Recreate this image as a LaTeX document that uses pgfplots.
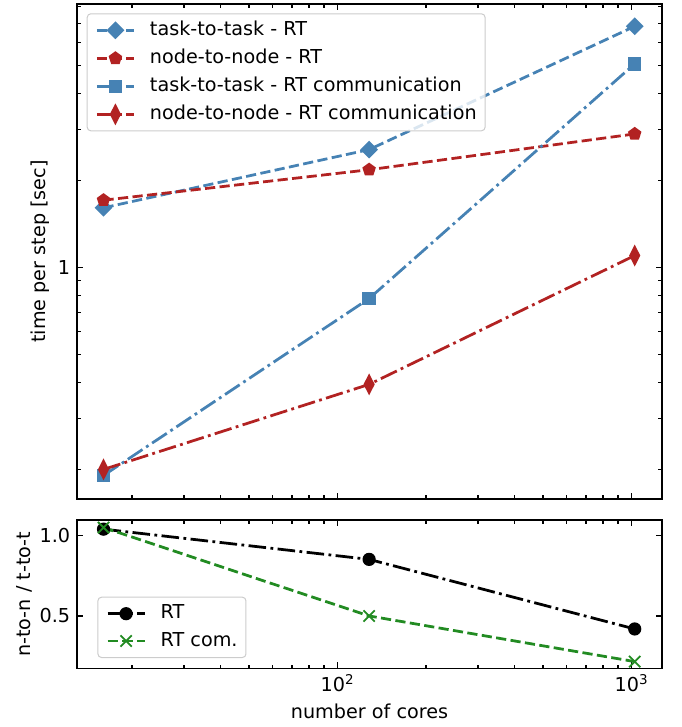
\documentclass[border=0pt]{standalone}
\usepackage{fontspec}
\setmainfont{DejaVu Sans}
\usepackage{pgfplots}
\pgfplotsset{compat=1.18}
\usetikzlibrary{plotmarks}
\definecolor{steel}{RGB}{70,130,180}
\definecolor{fire}{RGB}{178,34,34}
\definecolor{forest}{RGB}{34,139,34}
\definecolor{legframe}{RGB}{204,204,204}
\tikzset{
  dsh/.style={dash pattern=on 5.1pt off 2.2pt},
  dshdot/.style={dash pattern=on 8.8pt off 2.2pt on 1.4pt off 2.2pt},
}
\pgfplotsset{
  legend image code/.code={\draw[mark repeat=2,mark phase=2,sharp corners,#1, draw opacity=1, fill opacity=1] plot coordinates {(0pt,0pt) (9.2pt,0pt) (18.4pt,0pt)};},
  every axis/.append style={
    scale only axis,
    width=292.5pt,
    tick align=inside,
    major tick length=3.2pt,
    minor tick length=1.85pt,
    axis line style={line width=0.74pt, black},
    font=\fontsize{9.6}{11}\selectfont,
    xticklabel style={inner sep=0pt, yshift=-2.6pt, font=\fontsize{9.6}{11}\selectfont},
    yticklabel style={inner sep=0pt, xshift=-3.2pt, font=\fontsize{9.6}{11}\selectfont},
    legend cell align=left,
  },
  every tick/.append style={black, line width=0.74pt},
  every minor tick/.append style={black, line width=0.74pt},
}
\begin{document}
\begin{tikzpicture}
\useasboundingbox (0,0) rectangle (340.5pt,363.5pt);
\begin{axis}[at={(38.5pt,114pt)}, anchor=south west, height=247.5pt,
  xmode=log, xmin=13, xmax=1268, xtick={100,1000},
  minor xtick={20,30,40,50,60,70,80,90,200,300,400,500,600,700,800,900},
  ymode=log, ymin=0.158, ymax=8.17, ytick={1}, yticklabels={1},
  minor ytick={0.2,0.3,0.4,0.5,0.6,0.7,0.8,0.9,2,3,4,5,6,7,8},
  xticklabels={},
  ylabel={time per step [sec]},
  ylabel style={at={(axis description cs:-0.0624,0.5)}, anchor=center, font=\fontsize{9.6}{11}\selectfont},
  legend style={at={(axis description cs:0.0166,0.9812)}, anchor=north west, row sep=4.7pt,
    draw=legframe, line width=0.5pt, rounded corners=1.8pt, fill=white, fill opacity=0.8, draw opacity=1, text opacity=1, inner xsep=4.2pt, inner ysep=3.6pt, column sep=7.4pt, font=\fontsize{9.6}{11}\selectfont, nodes={inner sep=0pt, text height=7.2pt, text depth=2.1pt}}]
\addplot[steel, line width=1.38pt, dsh, mark=square*, mark size=2.7pt, mark options={solid, rotate=45, line width=0.9pt, fill=steel}] coordinates {(16,1.61) (128,2.56) (1024,6.84)};
\addlegendentry{task-to-task - RT}
\addplot[fire, line width=1.38pt, dsh, mark=pentagon*, mark size=3.0pt, mark options={solid, line width=0.9pt, fill=fire}] coordinates {(16,1.71) (128,2.18) (1024,2.90)};
\addlegendentry{node-to-node - RT}
\addplot[steel, line width=1.38pt, dshdot, mark=square*, mark size=2.9pt, mark options={solid, line width=0.9pt, fill=steel}] coordinates {(16,0.1906) (128,0.781) (1024,5.07)};
\addlegendentry{task-to-task - RT communication}
\addplot[fire, line width=1.38pt, dshdot, mark=diamond*, mark size=4.5pt, mark options={solid, xscale=0.68, line width=0.9pt, fill=fire}] coordinates {(16,0.2) (128,0.394) (1024,1.10)};
\addlegendentry{node-to-node - RT communication}
\end{axis}
\begin{axis}[at={(38.5pt,29.25pt)}, anchor=south west, height=74.25pt,
  xmode=log, xmin=13, xmax=1268, xtick={100,1000},
  minor xtick={20,30,40,50,60,70,80,90,200,300,400,500,600,700,800,900},
  ymin=0.173, ymax=1.097, ytick={0.5,1.0}, yticklabels={0.5,1.0},
  xticklabels={10\textsuperscript{2},10\textsuperscript{3}},
  xlabel={number of cores},
  xlabel style={at={(axis description cs:0.5,-0.291)}, anchor=center, font=\fontsize{9.6}{11}\selectfont},
  ylabel={n-to-n / t-to-t},
  ylabel style={at={(axis description cs:-0.0894,0.5)}, anchor=center, font=\fontsize{9.6}{11}\selectfont},
  legend style={at={(axis description cs:0.0349,0.0707)}, anchor=south west, row sep=4.35pt,
    draw=legframe, line width=0.5pt, rounded corners=1.8pt, fill=white, fill opacity=0.8, draw opacity=1, text opacity=1, inner xsep=4.2pt, inner ysep=3.6pt, column sep=7.4pt, font=\fontsize{9.6}{11}\selectfont, nodes={inner sep=0pt, text height=7.2pt, text depth=2.1pt}}]
\addplot[black, line width=1.38pt, dshdot, mark=*, mark size=2.85pt, mark options={solid, line width=0.9pt, fill=black}] coordinates {(16,1.04) (128,0.852) (1024,0.419)};
\addlegendentry{RT}
\addplot[forest, line width=1.38pt, dsh, mark=x, mark size=4pt, mark options={solid, line width=0.92pt}] coordinates {(16,1.05) (128,0.50) (1024,0.216)};
\addlegendentry{RT com.}
\end{axis}
\end{tikzpicture}
\end{document}
